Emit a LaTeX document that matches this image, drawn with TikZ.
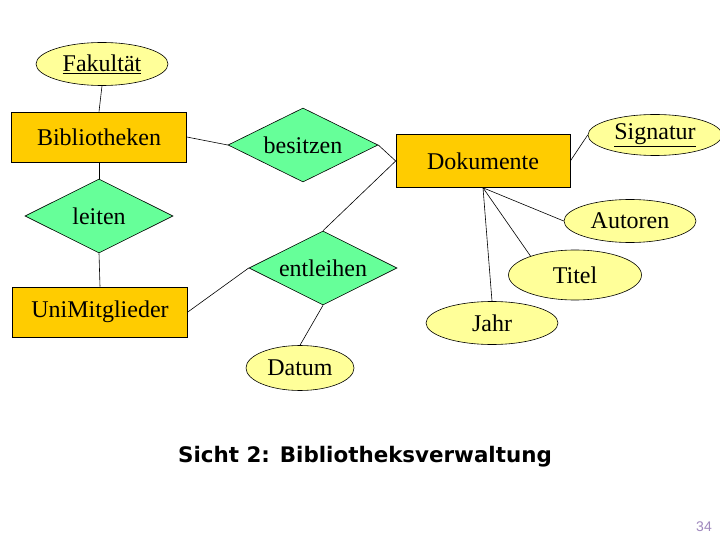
\documentclass[tikz,border=0pt]{standalone}
\usepackage{fontspec}
\setmainfont{Liberation Serif}
\newfontfamily\titlefont{DejaVu Sans}
\newfontfamily\numfont{Liberation Sans}
\usetikzlibrary{shapes.geometric}
\definecolor{entfill}{HTML}{FFCC00}
\definecolor{attfill}{HTML}{FFFF99}
\definecolor{relfill}{HTML}{66FF99}
\definecolor{pagenum}{HTML}{9F88BD}
\tikzset{
  entity/.style={draw=black, fill=entfill, line width=0.6pt, minimum width=175pt, minimum height=50pt, inner sep=0pt, font=\fontsize{24}{26}\selectfont},
  attr/.style={ellipse, draw=black, fill=attfill, line width=0.6pt, minimum width=132pt, minimum height=43pt, inner sep=0pt, font=\fontsize{24}{26}\selectfont},
  rel/.style={diamond, aspect=2, draw=black, fill=relfill, line width=0.6pt, minimum width=150pt, minimum height=74pt, inner sep=0pt, font=\fontsize{24}{26}\selectfont},
  conn/.style={draw=black, line width=0.6pt}
}
\begin{document}
\begin{tikzpicture}[x=1pt,y=-1pt]
\useasboundingbox (0,0) rectangle (720,540);
\fill[white] (0,0) rectangle (720,540);
% nodes
\node[attr] (fak) at (102,64) {\underline{Fakultät}};
\node[entity] (bib) at (99,137) {Bibliotheken};
\node[rel] (bes) at (303,145) {besitzen};
\node[entity, minimum width=174pt, minimum height=53pt] (dok) at (483,161) {Dokumente};
\node[attr, minimum width=134pt, minimum height=41pt] (sig) at (655,135) {\underline{Signatur}};
\node[rel, minimum width=148pt] (lei) at (99,216) {leiten};
\node[attr] (aut) at (630,221) {Autoren};
\node[rel, minimum width=148pt] (ent) at (323,268) {entleihen};
\node[attr, minimum width=133pt, minimum height=50pt] (tit) at (575,275) {Titel};
\node[entity] (uni) at (100,312) {UniMitglieder};
\node[attr] (jahr) at (492,323) {Jahr};
\node[attr, minimum width=108pt, minimum height=45pt] (dat) at (300,368) {Datum};
\node[font=\titlefont\bfseries\fontsize{21.4}{23}\selectfont] (title) at (365,457) {Sicht 2: Bibliotheksverwaltung};
\node[font=\numfont\fontsize{14}{16}\selectfont, text=pagenum] (num) at (704,527) {34};
% connectors
\draw[conn] (fak.south) -- (bib.north);
\draw[conn] (bib.east) -- (bes.west);
\draw[conn] (bes.east) -- (dok.west);
\draw[conn] (dok.west) -- (ent.north);
\draw[conn] (dok.east) -- (sig.west);
\draw[conn] (bib.south) -- (lei.north);
\draw[conn] (lei.south) -- (uni.north);
\draw[conn] (uni.east) -- (ent.west);
\draw[conn] (ent.south) -- (dat.north);
\draw[conn] (dok.south) -- (aut.west);
\draw[conn] (dok.south) -- (tit.157);
\draw[conn] (dok.south) -- (jahr.north);
\end{tikzpicture}
\end{document}
